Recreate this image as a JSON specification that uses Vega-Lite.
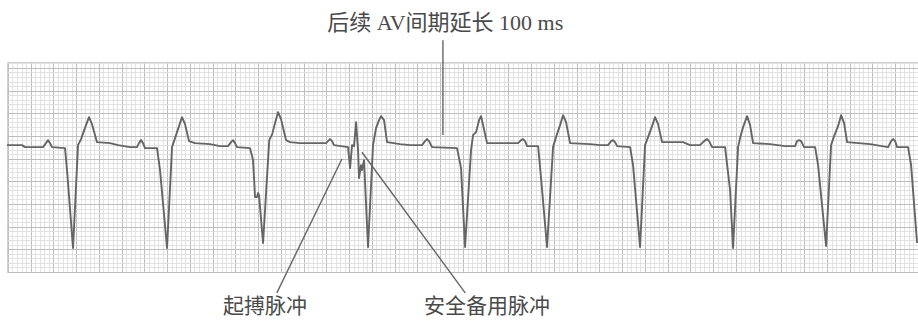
{
  "$schema": "https://vega.github.io/schema/vega-lite/v6.json",
  "width": 911,
  "height": 210,
  "autosize": {"type": "none"},
  "padding": {"left": 7, "top": 62, "right": 0, "bottom": 49},
  "background": "white",
  "config": {"view": {"stroke": "#cfcfcf", "strokeWidth": 1}},
  "datasets": {
    "ecg": [
      {"t":-0.2,"v":27.97},{"t":3.1,"v":27.97},{"t":3.76,"v":27.53},{"t":7.71,"v":27.53},{"t":8.37,"v":28.41},{"t":8.81,"v":29.07},{"t":9.25,"v":28.41},{"t":9.69,"v":27.53},{"t":12.55,"v":27.31},{"t":12.99,"v":22.47},{"t":14.31,"v":5.29},{"t":15.41,"v":27.97},{"t":16.07,"v":29.3},{"t":17.16,"v":32.38},{"t":17.82,"v":34.14},{"t":18.48,"v":32.6},{"t":19.58,"v":28.63},{"t":22.44,"v":28.41},{"t":24.2,"v":27.97},{"t":26.84,"v":27.53},{"t":28.37,"v":27.53},{"t":28.81,"v":28.41},{"t":29.25,"v":29.07},{"t":29.69,"v":28.41},{"t":30.13,"v":27.31},{"t":32.77,"v":27.31},{"t":33.43,"v":22.47},{"t":34.97,"v":5.29},{"t":36.07,"v":27.53},{"t":36.73,"v":29.52},{"t":37.6,"v":32.16},{"t":38.26,"v":34.14},{"t":38.92,"v":32.6},{"t":39.8,"v":28.85},{"t":41.12,"v":28.41},{"t":44.42,"v":28.19},{"t":46.62,"v":27.75},{"t":48.37,"v":27.75},{"t":49.03,"v":28.63},{"t":49.47,"v":29.07},{"t":49.91,"v":28.41},{"t":50.35,"v":27.53},{"t":53.21,"v":27.31},{"t":53.87,"v":24.67},{"t":54.31,"v":16.52},{"t":54.75,"v":16.52},{"t":54.97,"v":17.4},{"t":55.19,"v":16.96},{"t":56.07,"v":6.39},{"t":57.43,"v":29.07},{"t":58.09,"v":30.4},{"t":58.75,"v":33.04},{"t":59.36,"v":35.24},{"t":60.02,"v":33.7},{"t":61.12,"v":29.07},{"t":62.0,"v":28.63},{"t":64.2,"v":28.41},{"t":66.4,"v":28.41},{"t":69.91,"v":28.41},{"t":70.35,"v":28.85},{"t":70.79,"v":29.3},{"t":71.23,"v":28.85},{"t":71.67,"v":27.97},{"t":74.75,"v":27.53},{"t":75.19,"v":22.91},{"t":75.63,"v":27.97},{"t":76.07,"v":27.75},{"t":76.51,"v":33.04},{"t":76.95,"v":26.87},{"t":77.16,"v":20.7},{"t":77.6,"v":23.57},{"t":77.82,"v":22.47},{"t":78.26,"v":24.67},{"t":79.14,"v":5.51},{"t":80.24,"v":27.97},{"t":80.9,"v":31.72},{"t":81.56,"v":33.48},{"t":82.0,"v":34.36},{"t":82.66,"v":33.48},{"t":83.32,"v":28.63},{"t":86.18,"v":28.19},{"t":88.37,"v":27.97},{"t":91.01,"v":27.97},{"t":91.67,"v":28.85},{"t":92.11,"v":29.3},{"t":92.55,"v":28.85},{"t":93.21,"v":27.53},{"t":98.7,"v":27.31},{"t":99.58,"v":22.91},{"t":100.46,"v":5.51},{"t":101.78,"v":26.87},{"t":102.22,"v":30.18},{"t":102.88,"v":30.84},{"t":103.54,"v":33.48},{"t":103.98,"v":34.36},{"t":104.42,"v":32.38},{"t":105.3,"v":28.41},{"t":112.11,"v":28.41},{"t":112.77,"v":29.07},{"t":113.21,"v":29.3},{"t":113.65,"v":28.85},{"t":114.09,"v":27.75},{"t":116.51,"v":27.75},{"t":116.95,"v":23.13},{"t":118.48,"v":5.51},{"t":119.8,"v":27.53},{"t":120.46,"v":29.74},{"t":121.34,"v":32.38},{"t":122.0,"v":34.58},{"t":122.66,"v":33.04},{"t":123.54,"v":28.41},{"t":127.93,"v":28.19},{"t":130.13,"v":27.97},{"t":131.89,"v":27.97},{"t":132.55,"v":28.85},{"t":132.99,"v":29.07},{"t":133.43,"v":28.63},{"t":133.87,"v":27.75},{"t":136.73,"v":27.53},{"t":137.38,"v":23.57},{"t":138.92,"v":5.51},{"t":140.02,"v":27.97},{"t":140.68,"v":29.74},{"t":141.56,"v":32.16},{"t":142.22,"v":34.14},{"t":142.88,"v":32.6},{"t":143.76,"v":28.63},{"t":148.37,"v":28.63},{"t":149.91,"v":27.97},{"t":152.11,"v":27.97},{"t":152.99,"v":28.85},{"t":153.65,"v":29.3},{"t":154.09,"v":28.85},{"t":154.75,"v":27.53},{"t":157.6,"v":27.53},{"t":158.7,"v":18.06},{"t":159.36,"v":5.29},{"t":160.46,"v":27.53},{"t":160.9,"v":29.52},{"t":161.56,"v":31.94},{"t":162.44,"v":34.36},{"t":163.1,"v":32.38},{"t":163.76,"v":28.41},{"t":167.5,"v":28.19},{"t":170.79,"v":27.75},{"t":172.99,"v":27.75},{"t":173.43,"v":28.85},{"t":173.87,"v":29.07},{"t":174.31,"v":28.85},{"t":174.97,"v":27.53},{"t":177.39,"v":27.53},{"t":178.04,"v":23.57},{"t":179.8,"v":5.73},{"t":180.9,"v":27.97},{"t":181.56,"v":29.96},{"t":182.44,"v":32.16},{"t":183.1,"v":34.58},{"t":183.76,"v":32.82},{"t":184.42,"v":28.63},{"t":189.47,"v":28.19},{"t":193.43,"v":27.53},{"t":194.09,"v":28.85},{"t":194.53,"v":29.3},{"t":194.97,"v":28.85},{"t":195.41,"v":27.53},{"t":197.82,"v":27.53},{"t":198.48,"v":23.57},{"t":199.8,"v":6.39}
    ],
    "leaders": [
      {"x": 95.6, "y": 51.1, "x2": 95.6, "y2": 30.2},
      {"x": 59.1, "y": -4.6, "x2": 73.4, "y2": 24.9},
      {"x": 77.8, "y": 26.4, "x2": 100.5, "y2": -4.6}
    ],
    "toplabel": [
      {"label": "后续 AV间期延长 100 ms", "x": 96.1, "y": 55.0}
    ],
    "labels": [
      {"label": "起搏脉冲", "x": 56.5, "y": -7.8},
      {"label": "安全备用脉冲", "x": 105.3, "y": -7.8}
    ]
  },
  "resolve": {"axis": {"x": "independent", "y": "independent"}},
  "layer": [
    {
      "data": {"name": "ecg"},
      "mark": {"type": "line", "color": "#656565", "strokeWidth": 1.9, "strokeJoin": "round", "clip": false},
      "encoding": {
        "x": {"field": "t", "type": "quantitative", "scale": {"domain": [-0.2, 200], "nice": false, "zero": false},
              "axis": {"grid": true, "tickCount": 200, "gridColor": "#dcdcdc", "gridWidth": 0.8, "labels": false, "ticks": false, "domain": false, "title": null}},
        "y": {"field": "v", "type": "quantitative", "scale": {"domain": [0, 46.3], "nice": false, "zero": false},
              "axis": {"grid": true, "tickCount": 46, "gridColor": "#dcdcdc", "gridWidth": 0.8, "labels": false, "ticks": false, "domain": false, "title": null}}
      }
    },
    {
      "data": {"name": "leaders"},
      "mark": {"type": "rule", "color": "#666666", "strokeWidth": 1.4},
      "encoding": {
        "x": {"field": "x", "type": "quantitative", "scale": {"domain": [-0.2, 200], "nice": false, "zero": false},
              "axis": {"grid": true, "values": [0,5,10,15,20,25,30,35,40,45,50,55,60,65,70,75,80,85,90,95,100,105,110,115,120,125,130,135,140,145,150,155,160,165,170,175,180,185,190,195,200], "gridColor": "#bdbdbd", "gridWidth": 1, "labels": false, "ticks": false, "domain": false, "title": null, "orient": "top"}},
        "y": {"field": "y", "type": "quantitative", "scale": {"domain": [0, 46.3], "nice": false, "zero": false},
              "axis": {"grid": true, "values": [0,5,10,15,20,25,30,35,40,45], "gridColor": "#bdbdbd", "gridWidth": 1, "labels": false, "ticks": false, "domain": false, "title": null, "orient": "right"}},
        "x2": {"field": "x2"},
        "y2": {"field": "y2"}
      }
    },
    {
      "data": {"name": "toplabel"},
      "mark": {"type": "text", "font": "Liberation Serif, Noto Sans CJK SC", "fontSize": 22, "color": "#4a4a4a", "align": "center", "baseline": "middle"},
      "encoding": {
        "x": {"field": "x", "type": "quantitative", "axis": null},
        "y": {"field": "y", "type": "quantitative", "axis": null},
        "text": {"field": "label"}
      }
    },
    {
      "data": {"name": "labels"},
      "mark": {"type": "text", "font": "Liberation Serif, Noto Sans CJK SC", "fontSize": 21, "color": "#4a4a4a", "align": "center", "baseline": "middle"},
      "encoding": {
        "x": {"field": "x", "type": "quantitative", "axis": null},
        "y": {"field": "y", "type": "quantitative", "axis": null},
        "text": {"field": "label"}
      }
    }
  ]
}
